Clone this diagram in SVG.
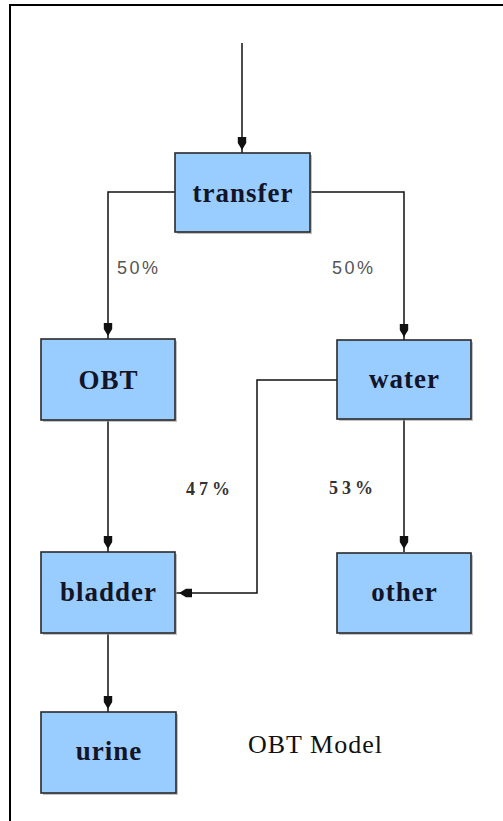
<svg xmlns="http://www.w3.org/2000/svg" width="503" height="821" viewBox="0 0 503 821">
<style>
.box{fill:#99ccff;stroke:#2a2a2a;stroke-width:1.6}
.shadow{fill:#9a9a9a;opacity:0.6}
.lbl{font-family:"Liberation Serif","Times New Roman",serif;font-weight:bold;font-size:27px;fill:#141428;text-anchor:middle;letter-spacing:1px}
.pct{font-family:"Liberation Sans",Arial,sans-serif;font-size:18px;fill:#555;letter-spacing:2.5px}
.pctb{font-family:"Liberation Serif","Times New Roman",serif;font-weight:bold;font-size:18px;fill:#333;letter-spacing:4px}
.title{font-family:"Liberation Serif","Times New Roman",serif;font-size:26px;fill:#111;letter-spacing:1px}
.conn{fill:none;stroke:#111;stroke-width:1.5}
</style>
<defs>
<marker id="arr" markerUnits="userSpaceOnUse" viewBox="0 0 16 12" markerWidth="16" markerHeight="12" refX="16" refY="6" orient="auto">
<path d="M0,1.8 L6,1.8 L13,6 L6,10.2 L0,10.2 Z" fill="#111"/>
</marker>
</defs>
<rect width="503" height="821" fill="#fff"/>
<path d="M10,821 V5 H503" fill="none" stroke="#000" stroke-width="2"/>
<g id="connectors">
<path class="conn" d="M242,43 V153" marker-end="url(#arr)"/>
<path class="conn" d="M175,192 H108 V339" marker-end="url(#arr)"/>
<path class="conn" d="M310,192 H404 V340" marker-end="url(#arr)"/>
<path class="conn" d="M337,380 H257 V593 H176" marker-end="url(#arr)"/>
<path class="conn" d="M404,419 V552" marker-end="url(#arr)"/>
<path class="conn" d="M108,420 V552" marker-end="url(#arr)"/>
<path class="conn" d="M108,633 V712" marker-end="url(#arr)"/>
</g>
<g id="labels">
<text class="pct" x="117" y="274">50%</text>
<text class="pct" x="332" y="274">50%</text>
<text class="pctb" x="186" y="495">47%</text>
<text class="pctb" x="329" y="494">53%</text>
</g>
<g id="transfer">
<rect class="shadow" x="177" y="155" width="135" height="79"/>
<rect class="box" x="175" y="153" width="135" height="79"/>
<text class="lbl" x="243" y="202">transfer</text>
</g>
<g id="OBT">
<rect class="shadow" x="43" y="341" width="134" height="81"/>
<rect class="box" x="41" y="339" width="134" height="81"/>
<text class="lbl" x="108.5" y="389">OBT</text>
</g>
<g id="water">
<rect class="shadow" x="339" y="342" width="134" height="79"/>
<rect class="box" x="337" y="340" width="134" height="79"/>
<text class="lbl" x="404.5" y="388">water</text>
</g>
<g id="bladder">
<rect class="shadow" x="43" y="554" width="134" height="81"/>
<rect class="box" x="41" y="552" width="134" height="81"/>
<text class="lbl" x="108.5" y="601">bladder</text>
</g>
<g id="other">
<rect class="shadow" x="339" y="555" width="134" height="80"/>
<rect class="box" x="337" y="553" width="134" height="80"/>
<text class="lbl" x="404.5" y="601">other</text>
</g>
<g id="urine">
<rect class="shadow" x="43" y="714" width="135" height="81"/>
<rect class="box" x="41" y="712" width="135" height="81"/>
<text class="lbl" x="109" y="760">urine</text>
</g>
<text class="title" x="248" y="753">OBT Model</text>
</svg>
